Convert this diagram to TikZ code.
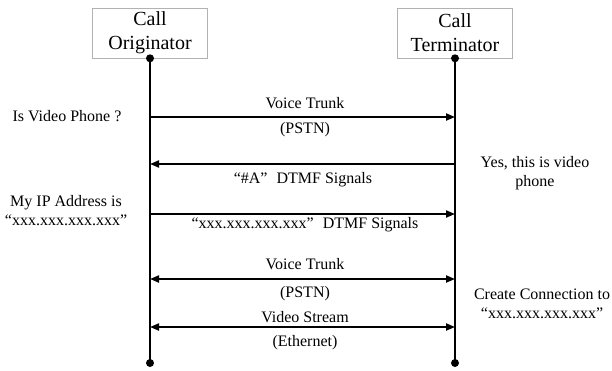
\documentclass[tikz,border=0pt]{standalone}
\usepackage{fontspec}
\setmainfont{Liberation Serif}
\usetikzlibrary{arrows.meta}

\begin{document}
\begin{tikzpicture}[x=1pt,y=-1pt]
\tikzstyle{every node}=[font=\fontsize{16}{19}\selectfont]
\tikzstyle{party}=[draw=black!30, line width=0.6pt, minimum width=115pt, minimum height=50pt, inner sep=0pt, align=center, font=\fontsize{20}{24}\selectfont]
\tikzstyle{life}=[line width=2.6pt]
\tikzstyle{msg}=[line width=2pt, -{Triangle[length=9pt,width=7pt]}]
\tikzstyle{both}=[line width=2pt, {Triangle[length=9pt,width=7pt]}-{Triangle[length=9pt,width=7pt]}]
\tikzstyle{note}=[align=center, inner sep=0pt]
\useasboundingbox (0,0) rectangle (612,370);
% parties
\node [party] (orig) at (150,33) {Call\\Originator};
\node [party] (term) at (455,33) {Call\\Terminator};
\coordinate (origend) at (150,363);
\coordinate (termend) at (455,363);
\draw [life] (orig.south) -- (origend);
\draw [life] (term.south) -- (termend);
\fill (orig.south) circle (4pt);
\fill (term.south) circle (4pt);
\fill (origend) circle (4pt);
\fill (termend) circle (4pt);
% message points
\coordinate (o1) at (150,117);
\coordinate (t1) at (455,117);
\coordinate (o2) at (150,164);
\coordinate (t2) at (455,164);
\coordinate (o3) at (150,214);
\coordinate (t3) at (455,214);
\coordinate (o4) at (150,279);
\coordinate (t4) at (455,279);
\coordinate (o5) at (150,327);
\coordinate (t5) at (455,327);
\draw [msg] (o1) -- (t1);
\draw [msg] (t2) -- (o2);
\draw [msg] (o3) -- (t3);
\draw [both] (o4) -- (t4);
\draw [both] (o5) -- (t5);
% labels
\node (trunka) at (305,103) {Voice Trunk};
\node (pstna) at (305,130) {(PSTN)};
\node (dtmfa) at (303,180) {“\#A”\hspace{9pt}DTMF Signals};
\node (dtmfb) at (305,225) {“xxx.xxx.xxx.xxx”\hspace{9pt}DTMF Signals};
\node (trunkb) at (305,264) {Voice Trunk};
\node (pstnb) at (305,294) {(PSTN)};
\node (video) at (305,317) {Video Stream};
\node (ether) at (305,343) {(Ethernet)};
% side notes
\node [note] (ask) at (67,116) {Is Video Phone ?};
\node [note] (yes) at (535,173) {Yes, this is video\\phone};
\node [note] (myip) at (66,211) {My IP Address is\\“xxx.xxx.xxx.xxx”};
\node [note] (conn) at (542,304) {Create Connection to\\“xxx.xxx.xxx.xxx”};
\end{tikzpicture}
\end{document}
